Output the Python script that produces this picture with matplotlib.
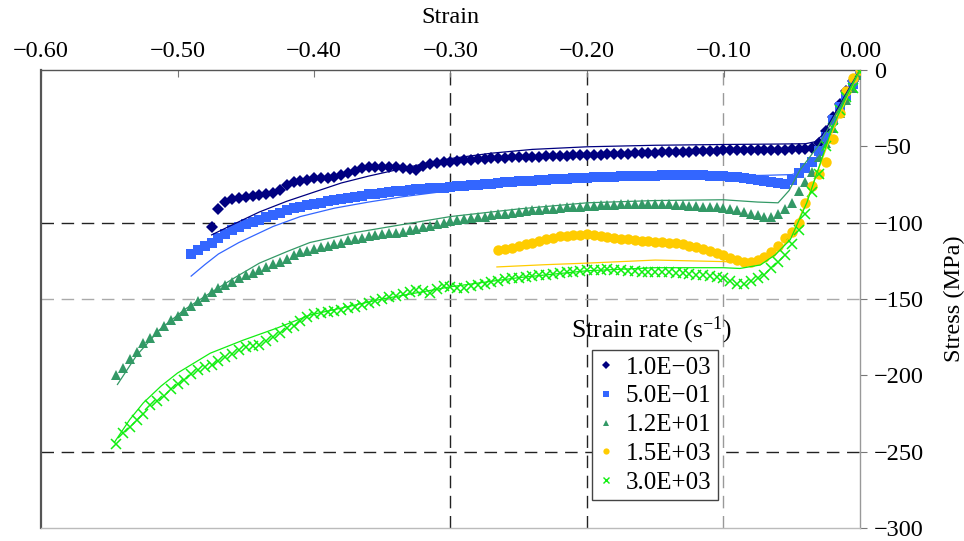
import matplotlib
matplotlib.use("Agg")
import matplotlib.pyplot as plt
from matplotlib.lines import Line2D
from matplotlib.ticker import FuncFormatter, MultipleLocator

plt.rcParams["font.family"] = ["Liberation Serif", "DejaVu Serif"]
plt.rcParams["mathtext.default"] = "regular"

# strain sample points shared by the measured curves (compression, negative)
strain_grid = [
    -0.545, -0.540, -0.535, -0.530, -0.525, -0.520, -0.515, -0.510, -0.505, -0.500,
    -0.495, -0.490, -0.485, -0.480, -0.475, -0.470, -0.465, -0.460, -0.455, -0.450,
    -0.445, -0.440, -0.435, -0.430, -0.425, -0.420, -0.415, -0.410, -0.405, -0.400,
    -0.395, -0.390, -0.385, -0.380, -0.375, -0.370, -0.365, -0.360, -0.355, -0.350,
    -0.345, -0.340, -0.335, -0.330, -0.325, -0.320, -0.315, -0.310, -0.305, -0.300,
    -0.295, -0.290, -0.285, -0.280, -0.275, -0.270, -0.265, -0.260, -0.255, -0.250,
    -0.245, -0.240, -0.235, -0.230, -0.225, -0.220, -0.215, -0.210, -0.205, -0.200,
    -0.195, -0.190, -0.185, -0.180, -0.175, -0.170, -0.165, -0.160, -0.155, -0.150,
    -0.145, -0.140, -0.135, -0.130, -0.125, -0.120, -0.115, -0.110, -0.105, -0.100,
    -0.095, -0.090, -0.085, -0.080, -0.075, -0.070, -0.065, -0.060, -0.055, -0.050,
    -0.045, -0.040, -0.035, -0.030, -0.025, -0.020, -0.015, -0.010, -0.005, 0.000,
]

labels = ["1.0E\u221203", "5.0E\u221201", "1.2E+01", "1.5E+03", "3.0E+03"]
colors = ["#000080", "#3366ff", "#339966", "#ffcc00", "#11ee11"]
markers = ["D", "s", "^", "o", "x"]
msizes = [6.5, 7.5, 7.5, 7.5, 6.5]

# measured stress (MPa), aligned with the tail of strain_grid
stress_1e_3 = [
    -103, -91, -86.5, -84.5, -84, -83,
    -82.5, -82, -81.5, -80.5, -78.5, -75, -73.5, -73, -72, -71,
    -70.8, -70.5, -70, -69, -67.5, -66, -64.5, -63.5, -63.5, -63.5,
    -63.5, -63.5, -64, -65, -65.5, -63, -61.8, -61, -60.5, -60,
    -59.6, -59.2, -58.8, -58.4, -58.1, -57.9, -57.7, -57.5, -57.3, -57.1,
    -57, -56.9, -56.7, -56.6, -56.4, -56.3, -56.1, -56, -55.8, -55.7,
    -55.5, -55.4, -55.2, -55.1, -54.9, -54.8, -54.6, -54.5, -54.3, -54.2,
    -54, -53.9, -53.7, -53.6, -53.4, -53.3, -53.1, -53, -52.8, -52.7,
    -52.6, -52.5, -52.4, -52.3, -52.3, -52.2, -52.2, -52.1, -52.1, -52,
    -52, -52, -51, -48, -40, -31, -22, -14, -7, 0,
]
stress_5e_1 = [
    -120.5, -118, -115.5, -113, -110, -107.5, -105, -103, -101,
    -99.5, -98, -96.5, -95, -93.5, -92, -90.5, -89.5, -88.5, -87.5,
    -86.8, -86, -85.3, -84.5, -84, -83.3, -82.5, -81.5, -81, -80.5,
    -80, -79.5, -79, -78.5, -78, -77.8, -77.5, -77.2, -77, -76.6,
    -76.2, -76, -75.6, -75.2, -74.8, -74.4, -74, -73.6, -73.3, -73,
    -72.7, -72.4, -72.1, -71.8, -71.5, -71.3, -71.1, -70.9, -70.7, -70.5,
    -70.3, -70.1, -70, -69.8, -69.7, -69.6, -69.5, -69.4, -69.3, -69.2,
    -69.1, -69, -69, -69, -69, -69, -69.1, -69.2, -69.3, -69.5,
    -69.8, -70.2, -70.8, -71.4, -72, -72.8, -73.5, -74.3, -74.5, -72,
    -67.5, -64, -60, -53, -44, -33, -24, -17, -9, -1,
]
stress_1_2e1 = [
    -200, -195, -189, -184.5, -179, -175.5, -171.5, -167.5, -164, -161,
    -158, -154.5, -151.5, -148.5, -145.5, -143, -141, -139, -136.5, -134.5,
    -133, -131, -129, -127, -125.5, -123.5, -121.5, -119.5, -118.5, -117.5,
    -116, -115, -114, -113, -111.5, -110.5, -110, -109, -108, -107.5,
    -107, -106.5, -106, -105, -104, -103, -102, -101, -100, -99,
    -98.5, -97.5, -97, -96.5, -96, -95, -94.5, -94, -93.5, -93,
    -92.5, -92, -91.5, -91, -91, -90.5, -90, -89.5, -89.5, -89,
    -89, -88.5, -88.5, -88.5, -88, -88, -88, -88, -88, -88,
    -88, -88, -88.5, -88.5, -89, -89, -89.5, -89.5, -90, -90.5,
    -91, -92, -93, -94, -95, -96, -96, -94.5, -91, -87,
    -79, -73.5, -66.5, -57, -48, -38, -28, -19.5, -12, -3,
]
stress_1_5e3 = [
    -118, -117.5, -116.5, -115.5,
    -114, -113, -112, -111, -110, -109, -108.5, -108, -108, -107.5,
    -108, -108.5, -109.5, -110, -110.5, -111, -111.5, -112, -112, -112.5,
    -112.5, -113, -113.5, -114, -115, -116, -117, -118.5, -120, -121.5,
    -123, -124.5, -125.5, -125.5, -124.5, -122.5, -119.5, -115, -110, -106,
    -100, -87, -76, -68, -60, -45, -28, -14, -5, 0,
]
stress_3e3 = [
    -245, -238, -234, -229, -225, -219.5, -216.5, -213.5, -209, -206,
    -203, -199, -196.5, -194.5, -193, -190.5, -188, -186, -183.5, -181.5,
    -180.5, -180, -177.5, -175, -172, -169, -167.5, -164.5, -161.5, -160,
    -159, -158.5, -158, -157, -156, -155, -154, -152.5, -151, -150,
    -149, -148, -147, -145.5, -144, -145, -146, -143.5, -141.5, -142,
    -143, -142.5, -141.5, -141, -140, -139, -138, -137, -136.5, -136,
    -135.5, -135, -134.5, -134, -133.5, -133, -132.5, -132, -131.5, -131,
    -131, -131, -130.5, -131, -131, -131.5, -131.5, -132, -132, -132,
    -132.5, -132.5, -133, -133, -133.5, -134, -134.5, -135, -135.5, -136,
    -138, -140.5, -140.5, -138.5, -136, -134, -130, -125.5, -121.5, -114,
    -104.5, -94, -80, -68, -50, -38, -26, -18, -12, -1,
]

# constitutive model curves (thin lines)
fit_strain_1e_3 = [-0.475, -0.46, -0.44, -0.42, -0.40, -0.38, -0.36, -0.34, -0.32, -0.30,
                   -0.27, -0.24, -0.20, -0.15, -0.10, -0.06, -0.04, -0.033, -0.028,
                   -0.022, -0.015, -0.008, 0.0]
fit_stress_1e_3 = [-108, -101.5, -93, -86, -80, -74, -69.5, -65.5, -61.5, -58,
                   -54.5, -52, -50.3, -49.3, -48.8, -48.5, -48.3, -47, -43,
                   -34, -23, -12, 0]
fit_strain_5e_1 = [-0.490, -0.480, -0.470, -0.455, -0.430, -0.410, -0.385, -0.360, -0.335,
                   -0.300, -0.250, -0.200, -0.150, -0.100, -0.070, -0.050, -0.040,
                   -0.030, -0.020, -0.010, 0.0]
fit_stress_5e_1 = [-135, -127.5, -120.5, -113, -102.5, -96, -90.5, -86.5, -83,
                   -79, -75, -72, -70.5, -69.5, -69, -68.5, -66,
                   -55, -37, -18, 0]
fit_strain_1_2e1 = [-0.544, -0.530, -0.513, -0.495, -0.476, -0.458, -0.440, -0.420, -0.403,
                    -0.370, -0.337, -0.300, -0.250, -0.200, -0.150, -0.100, -0.075, -0.060,
                    -0.052, -0.044, -0.030, -0.020, -0.010, 0.0]
fit_stress_1_2e1 = [-206, -187, -170, -157, -146, -136, -126.5, -119, -113,
                    -106.5, -101.5, -96, -91, -87, -85.5, -85, -86.5, -87,
                    -79, -65.5, -49, -33, -16, 0]
fit_strain_1_5e3 = [-0.266, -0.230, -0.200, -0.150, -0.100, -0.080, -0.070, -0.062, -0.055,
                    -0.048, -0.040, -0.030, -0.020, -0.010, 0.0]
fit_stress_1_5e3 = [-129, -127.5, -126.5, -124.5, -125.5, -126, -125, -121, -114,
                    -104, -88, -64, -40, -19, 0]
fit_strain_3e3 = [-0.546, -0.535, -0.525, -0.512, -0.500, -0.476, -0.452, -0.427, -0.403,
                  -0.350, -0.300, -0.250, -0.200, -0.150, -0.100, -0.088, -0.073, -0.062,
                  -0.051, -0.039, -0.030, -0.020, -0.010, 0.0]
fit_stress_3e3 = [-243.6, -229, -218, -207, -198.5, -185.5, -177, -169, -160.5,
                  -150, -142, -136, -131.5, -129.5, -129.5, -130, -127.7, -121,
                  -111, -87, -63.5, -37, -17.7, 0]

measured = [stress_1e_3, stress_5e_1, stress_1_2e1, stress_1_5e3, stress_3e3]
fits = [(fit_strain_1e_3, fit_stress_1e_3), (fit_strain_5e_1, fit_stress_5e_1),
        (fit_strain_1_2e1, fit_stress_1_2e1), (fit_strain_1_5e3, fit_stress_1_5e3),
        (fit_strain_3e3, fit_stress_3e3)]

fig = plt.figure(figsize=(9.64, 5.41), dpi=100)
ax = fig.add_axes([41 / 964, 1 - 528 / 541, 819 / 964, 458 / 541])

# dashed reference grid (only some lines)
for xv, c in [(-0.30, "#222222"), (-0.20, "#222222"), (-0.10, "#999999")]:
    ax.axvline(xv, color=c, lw=1.0, dashes=(9, 5.5), zorder=0)
for yv, c in [(-100, "#222222"), (-150, "#aaaaaa"), (-250, "#222222")]:
    ax.axhline(yv, color=c, lw=1.0, dashes=(9, 5.5), zorder=0)

for i in range(len(measured)):
    st = measured[i]
    xs = strain_grid[len(strain_grid) - len(st):]
    if markers[i] == "x":
        ax.plot(xs, st, ls="none", marker="x", ms=msizes[i], mew=1.1,
                color=colors[i], zorder=3)
    else:
        ax.plot(xs, st, ls="none", marker=markers[i], ms=msizes[i], mew=0,
                color=colors[i], zorder=3)
for i in range(len(fits)):
    ax.plot(fits[i][0], fits[i][1], color=colors[i], lw=0.9, zorder=4)

ax.set_xlim(-0.6, 0.0)
ax.set_ylim(-300, 0)
ax.xaxis.tick_top()
ax.xaxis.set_label_position("top")
ax.yaxis.tick_right()
ax.yaxis.set_label_position("right")
ax.xaxis.set_major_locator(MultipleLocator(0.1))
ax.yaxis.set_major_locator(MultipleLocator(50))


def fmt_x(v, pos):
    if abs(v) < 1e-9:
        return "0.00"
    return f"{v:.2f}".replace("-", "\u2212")


def fmt_y(v, pos):
    if abs(v) < 1e-9:
        return "0"
    return f"{v:.0f}".replace("-", "\u2212")


ax.xaxis.set_major_formatter(FuncFormatter(fmt_x))
ax.yaxis.set_major_formatter(FuncFormatter(fmt_y))
ax.tick_params(axis="x", direction="in", length=5, width=0.8, color="#777777",
               labelsize=17.5, pad=6)
ax.tick_params(axis="y", direction="out", length=5, width=0.8, color="#777777",
               labelsize=17.5, pad=5)
ax.set_xlabel("Strain", fontsize=17.5, labelpad=13)
ax.set_ylabel("Stress (MPa)", fontsize=17.5, labelpad=14)

ax.spines["left"].set_color("#555555")
ax.spines["left"].set_linewidth(1.6)
ax.spines["top"].set_color("#555555")
ax.spines["top"].set_linewidth(1.0)
ax.spines["right"].set_color("#999999")
ax.spines["right"].set_linewidth(1.0)
ax.spines["bottom"].set_color("#bbbbbb")
ax.spines["bottom"].set_linewidth(1.0)

handles = []
for i in range(len(labels)):
    handles.append(Line2D([], [], ls="none", marker=markers[i], color=colors[i],
                          ms=4.5, mew=1.0 if markers[i] == "x" else 0))
leg = ax.legend(handles, labels, loc="upper left",
                bbox_to_anchor=(592 / 964, 1 - 350 / 541), bbox_transform=fig.transFigure,
                fontsize=18, frameon=True, fancybox=False, framealpha=1,
                edgecolor="#444444", borderpad=0.25, labelspacing=0.25,
                handlelength=0.6, handletextpad=0.5, borderaxespad=0)
leg.get_frame().set_linewidth(1.0)
leg.set_zorder(5)
fig.text(651 / 964, 1 - 330 / 541, "Strain rate (s$^{-1}$)", ha="center", va="center",
         fontsize=18.5)

fig.savefig("out.png", dpi=100)
